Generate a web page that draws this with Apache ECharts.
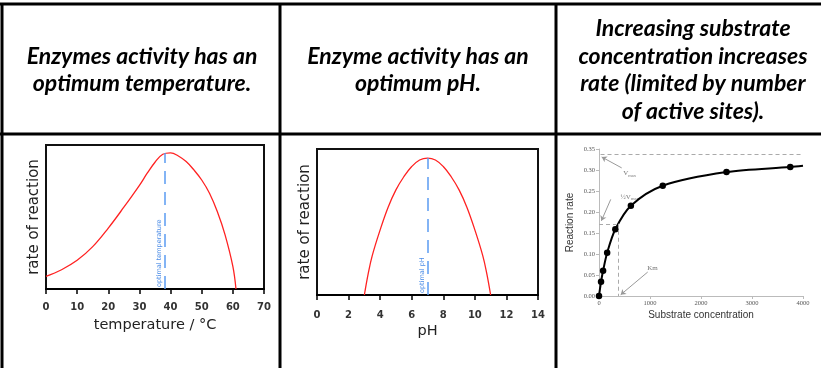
<!DOCTYPE html>
<html lang="en">
<head>
  <meta charset="UTF-8">
  <title>Enzyme activity</title>
  <script src="https://cdn.jsdelivr.net/npm/echarts@6/dist/echarts.min.js"></script>
  <style>
    html, body { margin: 0; padding: 0; background: #fff; }
    #main { width: 821px; height: 368px; }
  </style>
</head>
<body>
  <div id="main"></div>
  <script>
    // header captions, one array per cell
    var headers = [
      ['Enzymes activity has an', 'optimum temperature.'],
      ['Enzyme activity has an', 'optimum pH.'],
      ['Increasing substrate', 'concentration increases', 'rate (limited by number', 'of active sites).']
    ];

    // temperature curve (rate in % of axis height)
    var tempX = [0, 5, 10, 15, 20, 25, 30, 32.5, 35, 37.5, 40, 42.5, 45, 47.5, 50, 52.5, 55, 57.5, 60, 61];
    var tempRate = [8.8, 13.4, 19.9, 29.4, 42.3, 56.8, 72, 80.4, 88, 93.6, 94.6, 92.4, 88.5, 82.7, 75.7, 66.5, 53.8, 37.6, 15.7, 0];
    var tempOpt = 38;

    // pH curve
    var phX = [3, 3.25, 3.5, 4, 4.5, 5, 5.5, 6, 6.5, 7, 7.5, 8, 8.5, 9, 9.5, 10, 10.5, 10.75, 11];
    var phRate = [0, 15, 27, 44.6, 60, 72, 81, 88, 92.5, 93.8, 92.5, 88, 81, 72, 60, 44.6, 27, 15, 0];
    var phOpt = 7;

    // substrate concentration vs reaction rate
    var subConc = [0, 40, 80, 160, 320, 625, 1250, 2500, 3750];
    var subRate = [0, 0.034, 0.06, 0.103, 0.159, 0.215, 0.2625, 0.295, 0.307];
    var subEnd = [4000, 0.31];
    var vmax = 0.337;
    var halfV = 0.172;
    var km = 380;

    // annotation labels and arrows (data coords)
    var noteText = [[602, 0.292, 'vmax'], [600, 0.236, 'half'], [1050, 0.066, 'km']];
    var noteArrows = [
      [[445, 0.305], [53, 0.331]],
      [[230, 0.230], [47, 0.179]],
      [[955, 0.057], [425, 0.003]]
    ];

    var myChart = echarts.init(document.getElementById('main'));

    var sans = 'DejaVu Sans';
    var serif = 'Liberation Serif';

    function zip(xs, ys) {
      return xs.map(function (x, i) { return [x, ys[i]]; });
    }

    // table grid lines + header text
    var graphics = [];
    var hLines = [[0, 4, 821, 4], [0, 134, 821, 134]];
    var vLines = [[2, 3, 2, 368], [280, 3, 280, 368], [556, 3, 556, 368]];
    hLines.concat(vLines).forEach(function (l) {
      graphics.push({
        type: 'line', z: 100,
        shape: { x1: l[0], y1: l[1], x2: l[2], y2: l[3] },
        style: { stroke: '#000', lineWidth: 3 }
      });
    });
    var headX = [142, 418, 693];
    headers.forEach(function (lines, i) {
      graphics.push({
        type: 'text', z: 100,
        x: headX[i], y: 70,
        style: {
          text: lines.join('\n'),
          fill: '#000',
          font: 'italic bold 23px Lato',
          lineHeight: 27.5,
          align: 'center',
          verticalAlign: 'middle'
        }
      });
    });

    function frameX(min, max, interval, name, gap, margin) {
      return {
        type: 'value', min: min, max: max, interval: interval,
        name: name, nameLocation: 'middle', nameGap: gap,
        nameTextStyle: { fontFamily: sans, fontSize: 14.5, color: '#222' },
        axisLine: { show: true, onZero: false, lineStyle: { color: '#000', width: 2 } },
        axisTick: { show: true, length: 5, lineStyle: { color: '#000', width: 1.5 } },
        axisLabel: { margin: margin, fontFamily: sans, fontSize: 10, fontWeight: 'bold', color: '#333' },
        splitLine: { show: false }
      };
    }
    function frameY(name) {
      return {
        type: 'value', min: 0, max: 100,
        name: name, nameLocation: 'middle', nameGap: 4,
        nameTextStyle: { fontFamily: sans, fontSize: 15, color: '#222' },
        axisLine: { show: false }, axisTick: { show: false },
        axisLabel: { show: false }, splitLine: { show: false }
      };
    }
    function optLine(x, y, text) {
      return {
        symbol: 'none', silent: true, animation: false,
        lineStyle: { color: '#5b9cf2', width: 1.5, type: [13, 8] },
        label: {
          show: true, position: 'insideStartTop', distance: 2,
          formatter: text, fontFamily: sans, fontSize: 6.5, color: '#4a8be6'
        },
        data: [[{ coord: [x, 0] }, { coord: [x, y] }]]
      };
    }

    var grayAxis = { color: '#bbb', width: 1 };

    var option = {
      animation: false,
      graphic: graphics,
      grid: [
        { left: 46, top: 145, width: 218, height: 144, show: true, borderColor: '#111', borderWidth: 2 },
        { left: 317, top: 149, width: 221, height: 146, show: true, borderColor: '#111', borderWidth: 2 },
        { left: 599, top: 149, width: 204, height: 147 }
      ],
      xAxis: [
        Object.assign(frameX(0, 70, 10, 'temperature / °C', 29, 13), { gridIndex: 0 }),
        Object.assign(frameX(0, 14, 2, 'pH', 29, 15), { gridIndex: 1 }),
        {
          gridIndex: 2, type: 'value', min: 0, max: 4000, interval: 1000,
          name: 'Substrate concentration', nameLocation: 'middle', nameGap: 14,
          nameTextStyle: { fontFamily: 'Liberation Sans', fontSize: 10, color: '#333' },
          axisLine: { show: true, onZero: false, lineStyle: grayAxis },
          axisTick: { show: true, length: 3, lineStyle: grayAxis },
          axisLabel: {
            margin: 4, fontFamily: serif, fontSize: 6.5, color: '#555',
            formatter: function (v) { return String(v); }
          },
          splitLine: { show: false }
        }
      ],
      yAxis: [
        Object.assign(frameY('rate of reaction'), { gridIndex: 0 }),
        Object.assign(frameY('rate of reaction'), { gridIndex: 1 }),
        {
          gridIndex: 2, type: 'value', min: 0, max: 0.35, interval: 0.05,
          name: 'Reaction rate', nameLocation: 'middle', nameGap: 24,
          nameTextStyle: { fontFamily: 'Liberation Sans', fontSize: 10, color: '#333' },
          axisLine: { show: true, lineStyle: grayAxis },
          axisTick: { show: true, length: 3, lineStyle: grayAxis },
          axisLabel: {
            margin: 4, fontFamily: serif, fontSize: 6.5, color: '#555',
            formatter: function (v) { return v.toFixed(2); }
          },
          splitLine: { show: false }
        }
      ],
      series: [
        {
          type: 'line', xAxisIndex: 0, yAxisIndex: 0, smooth: 0.4,
          showSymbol: false, lineStyle: { color: '#f22', width: 1.3 },
          data: zip(tempX, tempRate),
          markLine: optLine(tempOpt, 94.4, 'optimal temperature')
        },
        {
          type: 'line', xAxisIndex: 1, yAxisIndex: 1, smooth: 0.4,
          showSymbol: false, lineStyle: { color: '#f22', width: 1.3 },
          data: zip(phX, phRate),
          markLine: optLine(phOpt, 93.8, 'optimal pH')
        },
        {
          type: 'line', xAxisIndex: 2, yAxisIndex: 2, smooth: 0.3,
          symbol: 'circle', symbolSize: 6.5,
          itemStyle: { color: '#000' },
          lineStyle: { color: '#000', width: 2 },
          data: zip(subConc, subRate).concat([{ value: subEnd, symbol: 'none' }]),
          markLine: {
            symbol: 'none', silent: true,
            lineStyle: { color: '#aaa', width: 1, type: [4, 3] },
            label: { show: false },
            data: [
              [{ coord: [30, vmax] }, { coord: [4000, vmax] }],
              [{ coord: [0, halfV] }, { coord: [km, halfV] }],
              [{ coord: [km, halfV] }, { coord: [km, 0] }]
            ]
          }
        },
        {
          type: 'scatter', xAxisIndex: 2, yAxisIndex: 2, symbolSize: 0,
          silent: true,
          data: noteText,
          label: {
            show: true, position: 'inside',
            fontFamily: serif, color: '#555',
            formatter: function (p) {
              var k = p.value[2];
              if (k === 'vmax') return '{v|V}{s|max}';
              if (k === 'half') return '{v|½V}{s|max}';
              return '{v|Km}';
            },
            rich: {
              v: { fontFamily: serif, fontSize: 7, color: '#555' },
              s: { fontFamily: serif, fontSize: 4.5, color: '#555', padding: [4, 0, 0, 0] }
            }
          },
          markLine: {
            silent: true,
            symbol: ['none', 'arrow'], symbolSize: 5,
            lineStyle: { color: '#999', width: 1, type: 'solid' },
            label: { show: false },
            data: noteArrows.map(function (a) {
              return [{ coord: a[0] }, { coord: a[1] }];
            })
          }
        }
      ]
    };

    myChart.setOption(option);
  </script>
</body>
</html>
